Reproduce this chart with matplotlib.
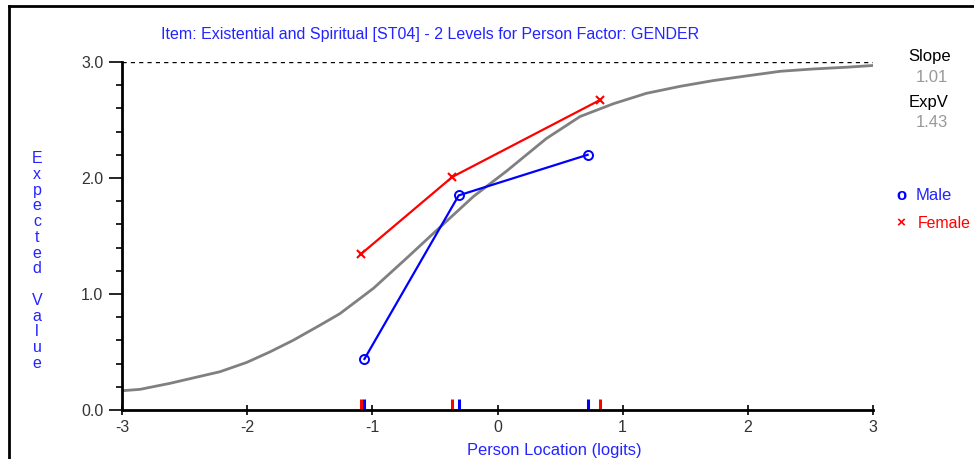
import numpy as np
import matplotlib
matplotlib.use("Agg")
import matplotlib.pyplot as plt
from matplotlib.lines import Line2D
from matplotlib.ticker import MultipleLocator, FixedLocator

plt.rcParams['font.family'] = ['Liberation Sans', 'DejaVu Sans']

# ---- data ----
title = "Item: Existential and Spiritual [ST04] - 2 Levels for Person Factor: GENDER"
curve_x = [-3.0, -2.856, -2.616, -2.377, -2.217, -2.004, -1.82, -1.634, -1.42,
           -1.26, -1.10, -0.99, -0.725, -0.46, -0.193, 0.073, 0.39, 0.66, 0.925,
           1.19, 1.458, 1.725, 1.99, 2.26, 2.525, 2.79, 3.0]
curve_y = [0.166, 0.178, 0.23, 0.29, 0.33, 0.41, 0.50, 0.60, 0.73,
           0.83, 0.96, 1.05, 1.31, 1.575, 1.84, 2.06, 2.34, 2.53, 2.64,
           2.73, 2.79, 2.84, 2.88, 2.92, 2.94, 2.955, 2.97]
male_x = [-1.063, -0.31, 0.72]
male_y = [0.44, 1.85, 2.20]
female_x = [-1.09, -0.36, 0.815]
female_y = [1.345, 2.01, 2.67]
slope_val = "1.01"
expv_val = "1.43"
xticks = [-3, -2, -1, 0, 1, 2, 3]
yticks = [0.0, 1.0, 2.0, 3.0]

W, H = 974, 459
fig = plt.figure(figsize=(W / 100, H / 100), dpi=100)
ax = fig.add_axes([122 / W, (H - 410) / H, 751 / W, 348 / H])
ax.set_xlim(-3, 3)
ax.set_ylim(0, 3)

BLUE = '#2424ff'
FS = 11.5
ax.axhline(3.0, color='black', lw=1.0, ls=(0, (3, 3)))
ax.plot(curve_x, curve_y, color='#808080', lw=2.0, solid_joinstyle='round')
ax.plot(female_x, female_y, color='#ff0000', lw=1.6, marker='x', ms=6, mew=1.5)
ax.plot(male_x, male_y, color='#0000ff', lw=1.6, marker='o', ms=6.5, mfc='none', mew=1.4)

for xv in female_x:
    ax.plot([xv, xv], [0, 0.095], color='#ff0000', lw=2.2, solid_capstyle='butt')
for xv in male_x:
    ax.plot([xv, xv], [0, 0.095], color='#0000ff', lw=2.2, solid_capstyle='butt')

for s in ['top', 'right']:
    ax.spines[s].set_visible(False)
for s in ['left', 'bottom']:
    ax.spines[s].set_linewidth(2.0)
    ax.spines[s].set_color('black')

ax.xaxis.set_major_locator(FixedLocator(xticks))
ax.set_xticklabels([str(t) for t in xticks])
ax.yaxis.set_major_locator(FixedLocator(yticks))
ax.set_yticklabels([f"{t:.1f}" for t in yticks])
ax.yaxis.set_minor_locator(MultipleLocator(0.2))
ax.tick_params(axis='x', direction='inout', length=7, width=1.2, labelsize=FS,
               pad=3.5, labelcolor='#333333')
ax.tick_params(axis='y', which='major', direction='out', length=9.5, width=1.2,
               labelsize=FS, pad=4, labelcolor='#333333')
ax.tick_params(axis='y', which='minor', direction='out', length=4, width=1.2)

fig.text(430 / W, 1 - 34 / H, title, color=BLUE, fontsize=11.5, ha='center', va='center')
fig.text(554 / W, 1 - 450 / H, "Person Location (logits)", color=BLUE, fontsize=11.9,
         ha='center', va='center')
fig.text(37 / W, 1 - 261 / H, "E\nx\np\ne\nc\nt\ne\nd\n\nV\na\nl\nu\ne", color=BLUE,
         fontsize=11.5, ha='center', va='center', linespacing=1.06)

fig.text(930 / W, 1 - 57 / H, "Slope", color='black', fontsize=12, ha='center', va='center')
fig.text(948 / W, 1 - 77 / H, slope_val, color='#999999', fontsize=12, ha='right', va='center')
fig.text(929 / W, 1 - 103 / H, "ExpV", color='black', fontsize=12, ha='center', va='center')
fig.text(948 / W, 1 - 123 / H, expv_val, color='#999999', fontsize=12, ha='right', va='center')
fig.text(901 / W, 1 - 195 / H, "o", color='#0000ff', fontsize=12, ha='center', va='center',
         fontweight='bold')
fig.text(916 / W, 1 - 195 / H, "Male", color=BLUE, fontsize=12, ha='left', va='center')
fig.text(901 / W, 1 - 223 / H, "\u00d7", color='#ff0000', fontsize=11, ha='center', va='center',
         fontweight='bold')
fig.text(918 / W, 1 - 223 / H, "Female", color='#ff0000', fontsize=11.4, ha='left', va='center')

# outer frame
fig.add_artist(Line2D([8.5 / W, 8.5 / W], [0, 1 - 6 / H], color='black', lw=2,
                      transform=fig.transFigure))
fig.add_artist(Line2D([8.5 / W, 1], [1 - 6 / H, 1 - 6 / H], color='black', lw=2,
                      transform=fig.transFigure))

fig.savefig("out.png", dpi=100)
